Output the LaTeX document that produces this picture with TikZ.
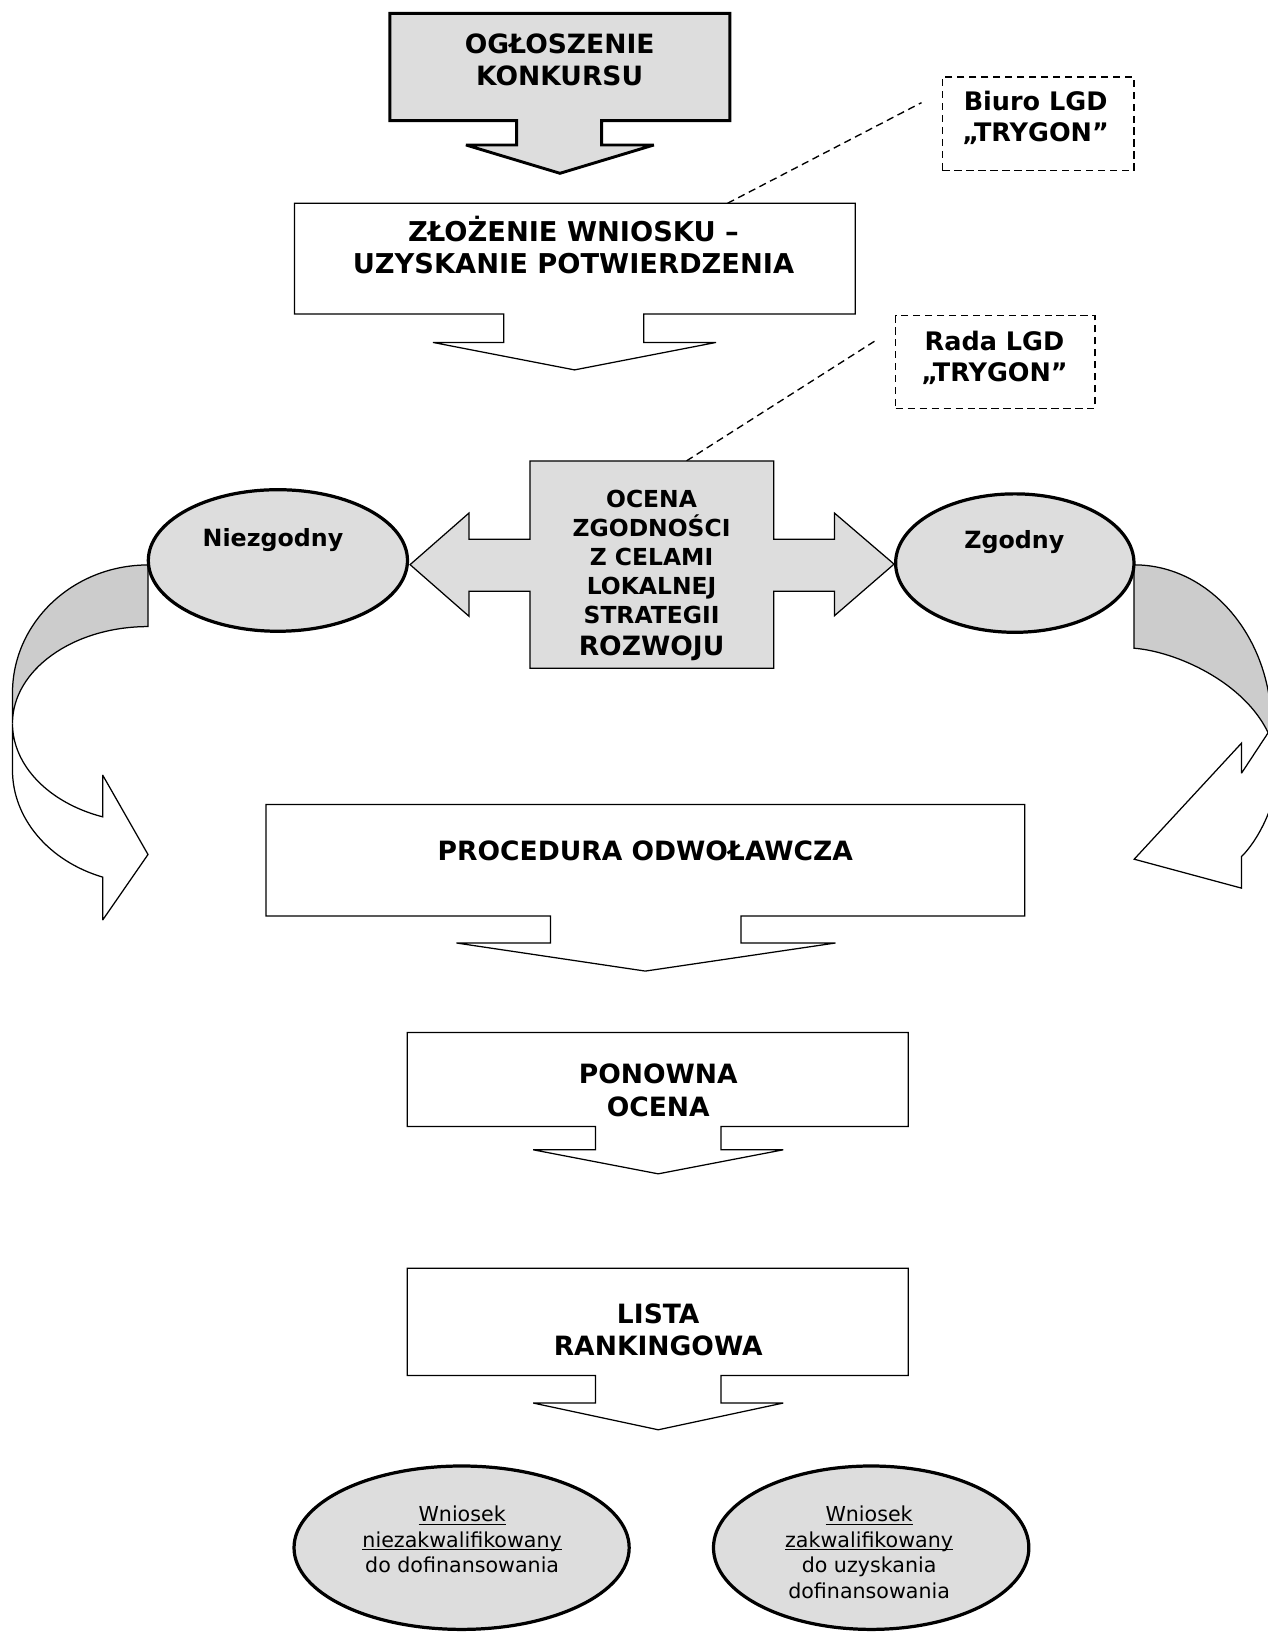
\documentclass[tikz,border=0pt]{standalone}
\usepackage{fontspec}
\setmainfont{DejaVu Sans}
\usetikzlibrary{shapes.geometric}
\definecolor{lg}{HTML}{DDDDDD}
\definecolor{dg}{HTML}{CCCCCC}
\newcommand\myul[1]{\setbox0=\hbox{#1}\rlap{\vrule height -2pt depth 3pt width \wd0}\box0}
\begin{document}
\begin{tikzpicture}[x=1pt,y=-1pt,line join=miter,miter limit=3,
  thinshape/.style={draw=black,line width=1.2pt,fill=white},
  thickshape/.style={draw=black,line width=2.8pt,fill=lg},
  crossshape/.style={draw=black,line width=1.2pt,fill=lg},
  backface/.style={draw=black,line width=1.2pt,fill=dg},
  oval/.style={draw=black,ellipse,line width=3.1pt,fill=lg,inner sep=0pt},
  dashbox/.style={draw=black,dash pattern=on 7pt off 4.5pt,line width=1.3pt,inner sep=0pt},
  dashline/.style={draw=black,dash pattern=on 7pt off 4.5pt,line width=1.3pt},
  bigtxt/.style={font=\fontsize{25.5}{31}\selectfont\bfseries,align=center,inner sep=0pt},
  midtxt/.style={font=\fontsize{22.5}{27.8}\selectfont\bfseries,align=center,inner sep=0pt},
  lgdtxt/.style={font=\fontsize{24.5}{30.4}\selectfont\bfseries,align=center,inner sep=0pt},
  elltxt/.style={font=\fontsize{22.8}{28}\selectfont\bfseries,inner sep=0pt,anchor=base},
  smalltxt/.style={font=\fontsize{19.8}{24.5}\selectfont,align=center,inner sep=0pt}]
\useasboundingbox (0,0) rectangle (1218,1568);
\fill[white] (0,0) rectangle (1218,1568);

% curved arrows (left)
\path[backface] (142.2,542.8) .. controls (70.3,542.8) and (12,597.9) .. (12,665.8) -- (12,695)
  .. controls (12,643.6) and (70.3,602) .. (142.2,602) -- cycle;
\path[thinshape] (12,695) -- (12,740) .. controls (12,786.1) and (46.7,827.3) .. (98.6,842.7)
  -- (98.6,884) -- (142.2,821) -- (98.6,744.6) -- (98.6,784.8)
  .. controls (46.7,771.3) and (12,735.3) .. (12,695) -- cycle;
% curved arrows (right)
\path[backface] (1089.6,542.7) .. controls (1162.5,542.7) and (1221.6,612.1) .. (1221.6,697.7)
  -- (1218.4,704) .. controls (1195,655) and (1130,626) .. (1089.6,622.8) -- cycle;
\path[thinshape] (1218.4,704) -- (1192.8,742.9) -- (1192.8,714) -- (1089.7,825.5) -- (1192.8,853.3)
  -- (1192.8,823) .. controls (1201,815) and (1214,797) .. (1222,772) -- (1222,704) -- cycle;

% top box with arrow
\path[thickshape] (374.6,12.8) -- (701.2,12.8) -- (701.2,115.9) -- (578,115.9) -- (578,139.3)
  -- (628.2,139.3) -- (538,166.5) -- (447.7,139.3) -- (496.3,139.3) -- (496.3,115.9)
  -- (374.6,115.9) -- cycle;
\node[bigtxt] (ogl) at (537.7,57.2) {OGŁOSZENIE\\KONKURSU};

% zlozenie
\path[thinshape] (283,195.3) -- (821.8,195.3) -- (821.8,301.6) -- (618.6,301.6) -- (618.6,329)
  -- (688,329) -- (552,355.4) -- (416,329) -- (484,329) -- (484,301.6) -- (283,301.6) -- cycle;
\node[bigtxt,font=\fontsize{26.2}{31}\selectfont\bfseries] (zloz) at (551,235.7) {ZŁOŻENIE WNIOSKU –\\UZYSKANIE POTWIERDZENIA};

% Biuro LGD
\node[dashbox,minimum width=184pt,minimum height=90pt] (biuro) at (997.5,119) {};
\node[lgdtxt] (biurotxt) at (995,113.2) {Biuro LGD\\„TRYGON”};
\coordinate (zlozT) at (699,195.3);
\coordinate (biuroL) at (885.4,98.6);
\draw[dashline] (zlozT) -- (biuroL);

% Rada LGD
\node[dashbox,minimum width=191.5pt,minimum height=89pt] (rada) at (956.3,347.9) {};
\node[lgdtxt] (radatxt) at (955.5,344) {Rada LGD\\„TRYGON”};
\coordinate (ocenaT) at (659.6,442.8);
\coordinate (radaL) at (842.2,326.6);
\draw[dashline] (ocenaT) -- (radaL);

% ocena cross
\path[crossshape] (509.1,442.8) -- (743.5,442.8) -- (743.5,518) -- (801.8,518) -- (801.8,493)
  -- (859,542) -- (801.8,591.5) -- (801.8,568) -- (743.5,568) -- (743.5,642) -- (509.1,642)
  -- (509.1,568) -- (450.5,568) -- (450.5,592) -- (394,542.5) -- (450.5,493) -- (450.5,518)
  -- (509.1,518) -- cycle;
\node[midtxt] (ocena) at (626,553) {OCENA\\ZGODNOŚCI\\Z CELAMI\\LOKALNEJ\\STRATEGII\\[2.8pt]{\fontsize{25.5}{30}\selectfont ROZWOJU}};

% ellipses
\node[oval,minimum width=249pt,minimum height=136pt] (niez) at (267,538.5) {};
\node[elltxt] (nieztxt) at (262.3,525.1) {Niezgodny};
\node[oval,minimum width=229pt,minimum height=133pt] (zgod) at (975,541) {};
\node[elltxt] (zgodtxt) at (974.6,526.7) {Zgodny};

% procedura
\path[thinshape] (255.5,773) -- (984.6,773) -- (984.6,880) -- (712,880) -- (712,906) -- (802.7,906)
  -- (620,933) -- (438.5,906) -- (529,906) -- (529,880) -- (255.5,880) -- cycle;
\node[bigtxt,anchor=base] (proc) at (620,826.5) {PROCEDURA ODWOŁAWCZA};

% ponowna ocena
\path[thinshape] (391.3,992) -- (872.6,992) -- (872.6,1082.3) -- (692.6,1082.3) -- (692.6,1104.7)
  -- (752.5,1104.7) -- (632.4,1127.8) -- (512.3,1104.7) -- (572.2,1104.7) -- (572.2,1082.3)
  -- (391.3,1082.3) -- cycle;
\node[bigtxt] (pon) at (632.4,1047.6) {PONOWNA\\OCENA};

% lista
\path[thinshape] (391.3,1218.4) -- (872.6,1218.4) -- (872.6,1321.5) -- (692.6,1321.5) -- (692.6,1348)
  -- (752.5,1348) -- (632.4,1373.7) -- (512.3,1348) -- (572.2,1348) -- (572.2,1321.5)
  -- (391.3,1321.5) -- cycle;
\node[bigtxt] (lista) at (632.4,1277.8) {LISTA\\RANKINGOWA};

% bottom ellipses
\node[oval,minimum width=322pt,minimum height=157pt] (nzak) at (443.5,1487) {};
\node[smalltxt] (nzaktxt) at (444,1479) {\myul{Wniosek}\\\myul{niezakwalifikowany}\\do dofinansowania};
\node[oval,minimum width=303pt,minimum height=157pt] (zak) at (837,1487) {};
\node[smalltxt] (zaktxt) at (835,1491.5) {\myul{Wniosek}\\\myul{zakwalifikowany}\\do uzyskania\\dofinansowania};
\end{tikzpicture}
\end{document}
